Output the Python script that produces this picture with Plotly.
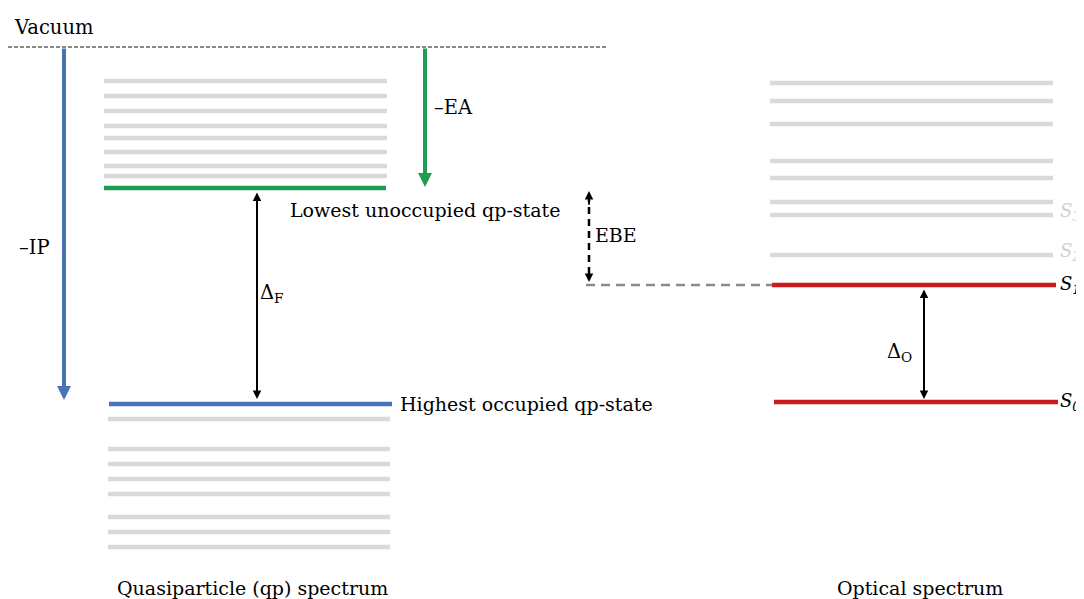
import plotly.graph_objects as go

# ---------------- data (energies relative to vacuum, arbitrary units) -------------
vacuum_level = 0.0
qp_unoccupied = [-1.7, -2.45, -3.2, -3.95, -4.55, -5.25, -5.95, -6.45]
qp_lumo = -7.05
qp_homo = -17.85
qp_occupied = [-18.6, -20.1, -20.85, -21.6, -22.35, -23.5, -24.25, -25.0]
optical_excited = [-1.8, -2.7, -3.85, -5.7, -6.55, -7.75, -8.4, -10.4]
optical_s1 = -11.9
optical_s0 = -17.75
faded_state_labels = ["S<sub>3</sub>", "S<sub>2</sub>"]
faded_state_levels = [-8.25, -10.25]
main_state_labels = ["S<sub>1</sub>", "S<sub>0</sub>"]
column_titles = ["Quasiparticle (qp) spectrum", "Optical spectrum"]

# ---------------- layout constants ----------------
FONT = "DejaVu Serif"
GRAY = "#d9d9d9"
GREEN = "#1f9d50"
BLUE = "#4a72b8"
RED = "#cc1b1f"
QP_X = (104, 387)
OPT_X = (770, 1053)

fig = go.Figure()


def level(x0, x1, e, color, width=4, dash=None):
    fig.add_trace(go.Scatter(x=[x0, x1], y=[e, e], mode="lines",
                             line=dict(color=color, width=width, dash=dash),
                             hoverinfo="skip", showlegend=False))


for e in qp_unoccupied:
    level(QP_X[0], QP_X[1], e, GRAY, 4.5)
for e in qp_occupied:
    level(QP_X[0] + 4, QP_X[1] + 3, e, GRAY, 4.5)
for e in optical_excited:
    level(OPT_X[0], OPT_X[1], e, GRAY, 4.5)

level(QP_X[0], QP_X[1] - 1, qp_lumo, GREEN, 4.5)
level(QP_X[0] + 5, QP_X[1] + 5, qp_homo, BLUE, 4.5)
level(OPT_X[0] + 2, OPT_X[1] + 3, optical_s1, RED, 4.5)
level(OPT_X[0] + 4, OPT_X[1] + 5, optical_s0, RED, 4.5)

# vacuum line
level(8, 608, vacuum_level, "#111111", 1.2, "4px,2px")
# gray dashed connector from EBE to S1
level(586, OPT_X[0] + 2, optical_s1, "#8a8a8a", 2.5, "9px,6px")
# EBE dashed shaft
fig.add_trace(go.Scatter(x=[589, 589], y=[qp_lumo - 0.35, optical_s1 + 0.3], mode="lines",
                         line=dict(color="black", width=2.5, dash="7px,5px"),
                         hoverinfo="skip", showlegend=False))

ann = []


def arrow(x, y_tail, y_tip, color, width, size, side="end"):
    ann.append(dict(x=x, y=y_tip, ax=x, ay=y_tail, xref="x", yref="y", axref="x", ayref="y",
                    showarrow=True, arrowhead=2, arrowsize=size, arrowwidth=width,
                    arrowcolor=color, arrowside=side, standoff=0, startstandoff=0, text=""))


# -IP and -EA arrows
arrow(64, vacuum_level, qp_homo + 0.2, BLUE, 4, 0.7)
arrow(425, vacuum_level, qp_lumo + 0.05, GREEN, 4, 0.7)
# Delta_F and Delta_O double arrows
arrow(257, qp_lumo - 0.15, qp_homo + 0.25, "black", 2, 0.85, "end+start")
arrow(924, optical_s1 - 0.15, optical_s0 + 0.15, "black", 2, 0.85, "end+start")
# EBE arrowheads
arrow(589, qp_lumo - 0.9, qp_lumo - 0.15, "black", 2, 0.85)
arrow(589, optical_s1 + 0.6, optical_s1 + 0.15, "black", 2, 0.85)


def text(x, e, s, size=19, color="black", anchor="left"):
    ann.append(dict(x=x, y=e, xref="x", yref="y", text=s, showarrow=False,
                    xanchor=anchor, yanchor="middle",
                    font=dict(family=FONT, size=size, color=color)))


text(12, vacuum_level + 1.0, "Vacuum", 19.5)
text(432, -3.0, "\u2013EA", 19.5)
text(17, -10.0, "\u2013IP", 19.5)
text(258, -12.3, "\u0394<sub>F</sub>", 19.5)
text(288, -8.15, "Lowest unoccupied qp-state", 19)
text(398, qp_homo, "Highest occupied qp-state", 19)
text(593, -9.4, "EBE", 19)
text(885, -15.25, "\u0394<sub>O</sub>", 19.5)
for lbl, e in zip(faded_state_labels, faded_state_levels):
    text(1058, e, "<i>" + lbl + "</i>", 18, "#d0d0d0")
for lbl, e in zip(main_state_labels, [optical_s1, optical_s0]):
    text(1058, e, "<i>" + lbl + "</i>", 18)
text(252, -27.05, column_titles[0], 19, anchor="center")
text(920, -27.05, column_titles[1], 19, anchor="center")

fig.update_layout(
    width=1084, height=599, margin=dict(l=0, r=0, t=0, b=0),
    paper_bgcolor="white", plot_bgcolor="white",
    xaxis=dict(range=[8, 1092], visible=False, fixedrange=True),
    yaxis=dict(range=[-28.0, 1.95], visible=False, fixedrange=True),
    annotations=ann, showlegend=False,
)

fig.write_html("out.html")
